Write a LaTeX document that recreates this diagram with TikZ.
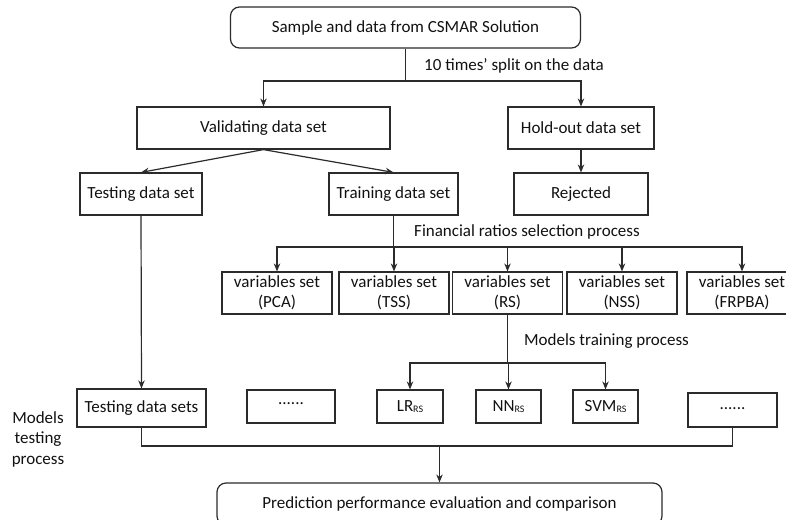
\documentclass[tikz,border=0pt]{standalone}
\usepackage{fontspec}
\setmainfont{Carlito}
\usetikzlibrary{arrows.meta}
\definecolor{linec}{HTML}{2B2B2B}
\definecolor{textc}{HTML}{111111}
\tikzset{
  box/.style={draw=linec, line width=1.2pt, inner sep=0pt, text=textc, font=\fontsize{17}{20}\selectfont, align=center},
  rbox/.style={box, rounded corners=9pt},
  ln/.style={draw=linec, line width=1.2pt},
  arr/.style={ln, -{Stealth[length=8pt,width=6.5pt]}},
  lbl/.style={inner sep=0pt, text=textc, font=\fontsize{17}{20}\selectfont, anchor=west},
}
\newcommand{\subrs}[1]{#1\raisebox{-1.5pt}{\fontsize{10}{10}\selectfont RS}}
\begin{document}
\begin{tikzpicture}[x=1pt,y=-1pt]
\useasboundingbox (0,0) rectangle (786,519);
\clip (0,0) rectangle (786,519);
% top
\node[rbox, minimum width=350pt, minimum height=41pt] (top) at (405.5,27.5) {Sample and data from CSMAR Solution};
\node[box, minimum width=253pt, minimum height=42pt] (val) at (263.5,128) {Validating data set};
\node[box, minimum width=146pt, minimum height=42pt] (hold) at (581,128) {Hold-out data set};
\node[box, minimum width=122pt, minimum height=42pt] (test) at (141,194) {Testing data set};
\node[box, minimum width=129pt, minimum height=42pt] (train) at (393.5,194) {Training data set};
\node[box, minimum width=134pt, minimum height=42pt] (rej) at (581,194) {Rejected};
% variables sets
\node[box, minimum width=110pt, minimum height=42pt] (pca) at (277,293) {variables set\\(PCA)};
\node[box, minimum width=110pt, minimum height=42pt] (tss) at (394,293) {variables set\\(TSS)};
\node[box, minimum width=110pt, minimum height=42pt] (rs) at (507.5,293) {variables set\\(RS)};
\node[box, minimum width=110pt, minimum height=42pt] (nss) at (622,293) {variables set\\(NSS)};
\node[box, minimum width=110pt, minimum height=42pt] (frp) at (742,293) {variables set\\(FRPBA)};
% bottom row
\node[box, minimum width=129pt, minimum height=38pt] (tds) at (141.5,408) {Testing data sets};
\node[box, minimum width=88pt, minimum height=33pt] (dA) at (291,406.5) {\raisebox{5pt}{......}};
\node[box, minimum width=66pt, minimum height=33pt] (lr) at (410,406.5) {\subrs{LR}};
\node[box, minimum width=65pt, minimum height=33pt] (nn) at (508.5,406.5) {\subrs{NN}};
\node[box, minimum width=65pt, minimum height=33pt] (svm) at (605.5,406.5) {\subrs{SVM}};
\node[box, minimum width=89pt, minimum height=34pt] (dB) at (732.5,410) {\raisebox{3pt}{......}};
\node[rbox, minimum width=445pt, minimum height=42pt] (pred) at (439.5,504) {Prediction performance evaluation and comparison};
% labels
\node[lbl] (l1) at (424,66) {10 times’ split on the data};
\node[lbl] (l2) at (414,232) {Financial ratios selection process};
\node[lbl] (l3) at (524,341) {Models training process};
\node[inner sep=0pt, text=textc, font=\fontsize{17}{20.5}\selectfont, align=center] (l4) at (38,439) {Models\\testing\\process};
% connectors
\coordinate (c1) at (405.5,81);
\draw[ln] (top.south) -- (c1);
\draw[arr] (c1) -| (val.north);
\draw[arr] (c1) -| (hold.north);
\draw[arr] (val.south) -- (test.north);
\draw[arr] (val.south) -- (train.north);
\draw[arr] (hold.south) -- (rej.north);
\coordinate (c2) at (393.5,247);
\draw[ln] (train.south) -- (c2);
\draw[arr] (c2) -| (pca.north);
\draw[arr] (c2) -| (tss.north);
\draw[arr] (c2) -| (rs.north);
\draw[arr] (c2) -| (nss.north);
\draw[arr] (c2) -| (frp.north);
\coordinate (c3) at (507.5,363);
\draw[ln] (rs.south) -- (c3);
\draw[arr] (c3) -| (lr.north);
\draw[arr] (c3) -| (nn.north);
\draw[arr] (c3) -| (svm.north);
\draw[arr] (test.south) -- (tds.north);
\coordinate (c4) at (439.5,446);
\draw[ln] (tds.south) |- (c4);
\draw[ln] (dB.south) |- (c4);
\draw[arr] (c4) -- (pred.north);
\end{tikzpicture}
\end{document}
